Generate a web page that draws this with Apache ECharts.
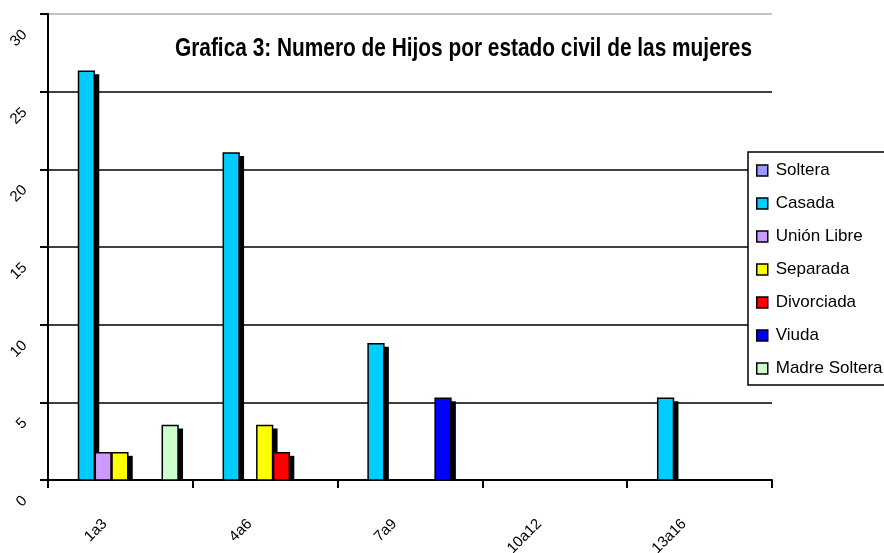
<!DOCTYPE html>
<html>
<head>
<meta charset="utf-8">
<script src="https://cdn.jsdelivr.net/npm/echarts@6/dist/echarts.min.js"></script>
<style>html,body{margin:0;padding:0;background:#fff}#c{width:884px;height:553px}</style>
</head>
<body>
<div id="c"></div>
<script>
const categories = ['1a3', '4a6', '7a9', '10a12', '13a16'];
const seriesNames = ['Soltera', 'Casada', 'Unión Libre', 'Separada', 'Divorciada', 'Viuda', 'Madre Soltera'];
const soltera = [null, null, null, null, null];
const casada = [26.32, 21.05, 8.77, null, 5.26];
const unionLibre = [1.75, null, null, null, null];
const separada = [1.75, 3.51, null, null, null];
const divorciada = [null, 1.75, null, null, null];
const viuda = [null, null, 5.26, null, null];
const madreSoltera = [3.51, null, null, null, null];
const yTicks = [0, 5, 10, 15, 20, 25, 30];
const titleText = 'Grafica 3: Numero de Hijos por estado civil de las mujeres';
const colors = ['#9999FF', '#00CCFF', '#CC99FF', '#FFFF00', '#FF0000', '#0000FF', '#CCFFCC'];
const values = [soltera, casada, unionLibre, separada, divorciada, viuda, madreSoltera];

const FONT = 'Liberation Sans, Arial, sans-serif';
const GAP = 0.19;
const N = seriesNames.length;

function makeRender(i) {
  return function (params, api) {
    const cat = api.value(0), val = api.value(1);
    if (val == null || isNaN(val)) return null;
    const band = api.size([1, 0])[0];
    const used = band * (1 - GAP);
    const slot = used / N;
    const base = api.coord([cat, 0]);
    const top = api.coord([cat, val]);
    const x0 = base[0] - used / 2 + i * slot;
    const w = slot - 1;
    const h = base[1] - top[1];
    return {
      type: 'group',
      children: [
        {type: 'rect', shape: {x: x0 + 5, y: top[1] + 3, width: w, height: h - 3}, style: {fill: '#000'}},
        {type: 'rect', shape: {x: x0, y: top[1], width: w, height: h}, style: {fill: colors[i], stroke: '#000', lineWidth: 1.5}}
      ]
    };
  };
}

const chart = echarts.init(document.getElementById('c'), null, {renderer: 'canvas'});
chart.setOption({
  backgroundColor: '#fff',
  animation: false,
  graphic: [{
    type: 'text',
    x: 175, y: 37,
    scaleX: 0.834,
    z: 10,
    style: {text: titleText, font: 'bold 25px Liberation Sans, Arial, sans-serif', fill: '#000', verticalAlign: 'top'}
  }],
  legend: {
    orient: 'vertical',
    left: 748, top: 152,
    width: 140,
    padding: [10, 20, 8, 8],
    itemGap: 16,
    itemWidth: 11, itemHeight: 11,
    icon: 'rect',
    backgroundColor: '#fff',
    borderColor: '#000', borderWidth: 1.5,
    itemStyle: {borderColor: '#000', borderWidth: 1.5},
    textStyle: {fontFamily: FONT, fontSize: 17, color: '#000', padding: [0, 0, 0, 3]},
    data: seriesNames
  },
  grid: {left: 48, right: 112, top: 14, bottom: 73, containLabel: false, outerBoundsMode: 'none'},
  xAxis: {
    type: 'category',
    data: categories,
    axisLine: {lineStyle: {color: '#000', width: 2}},
    axisTick: {show: true, length: 8, lineStyle: {color: '#000', width: 2}},
    axisLabel: {rotate: 45, margin: 26, padding: [0, 22, 0, 0], fontFamily: FONT, fontSize: 15, color: '#000'}
  },
  yAxis: {
    type: 'value',
    min: 0, max: 30, interval: 5,
    axisLine: {show: true, lineStyle: {color: '#000', width: 2}},
    axisTick: {show: true, length: 8, lineStyle: {color: '#000', width: 2}},
    axisLabel: {
      rotate: 45, margin: 5, fontFamily: FONT, fontSize: 15, color: '#000',
      padding: [0, 26, 0, 0],
      formatter: v => (yTicks.indexOf(v) >= 0 ? String(v) : '')
    },
    splitLine: {show: true, lineStyle: {color: ['#000', '#000', '#000', '#000', '#000', '#000', '#b0b0b0'], width: 1.5}}
  },
  series: seriesNames.map((name, i) => ({
    name: name,
    type: 'custom',
    renderItem: makeRender(i),
    itemStyle: {color: colors[i]},
    encode: {x: 0, y: 1},
    data: values[i].map((v, k) => [k, v]).filter(d => d[1] != null)
  }))
});
</script>
</body>
</html>
